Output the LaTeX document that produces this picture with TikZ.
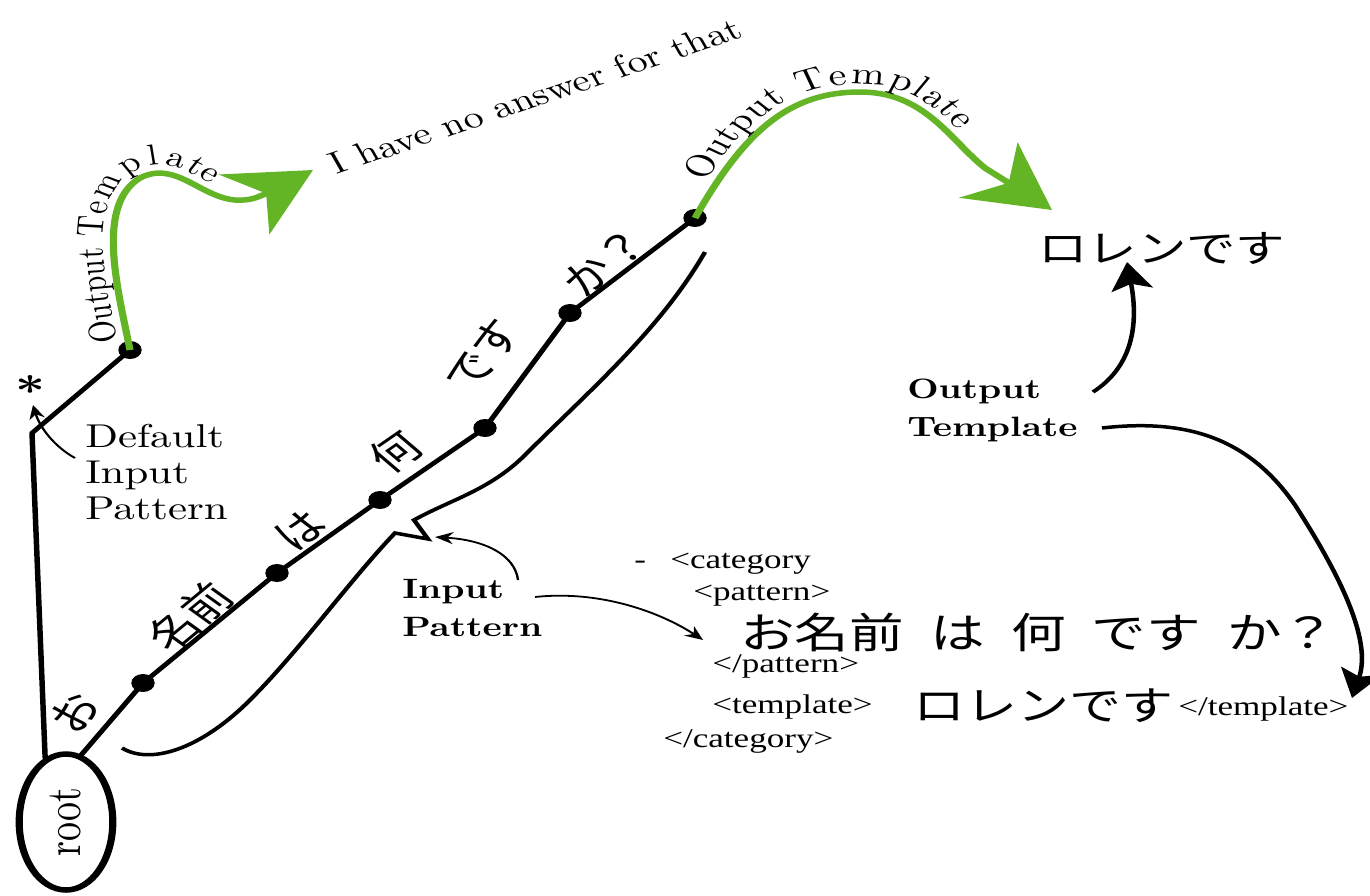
\documentclass[tikz,border=0pt]{standalone}
\usepackage{fontspec}
\usepackage{graphicx}
\setmainfont{lmroman10-regular}[Extension=.otf, BoldFont=lmroman10-bold, ItalicFont=lmroman10-italic]
\newfontfamily\jp{Noto Sans CJK JP}
\newfontfamily\tms{Liberation Serif}
\usetikzlibrary{shapes.geometric,arrows.meta,decorations.text}
\definecolor{lgreen}{RGB}{100,181,38}
\tikzset{
 dotn/.style={circle, fill=black, inner sep=0pt, minimum size=18pt},
 trunk/.style={line width=4.2pt, line cap=round, line join=round},
 bracket/.style={line width=3.5pt, line join=miter},
 gcurve/.style={lgreen, line width=5.5pt, -{Stealth[length=63pt,width=71pt,inset=20pt]}},
 thinarr/.style={line width=1.8pt, -{Stealth[length=14pt,width=12pt]}},
 blkarr/.style={line width=3.5pt, -{Stealth[length=28pt,width=32pt,inset=6pt]}},
 lab/.style={inner sep=0pt, font=\fontsize{33}{36}\selectfont, align=left},
 blab/.style={inner sep=0pt, font=\bfseries\fontsize{28}{38}\selectfont, align=left},
 tag/.style={inner sep=0pt, anchor=base west, font=\tms\fontsize{27}{30}\selectfont},
 jpl/.style={inner sep=0pt, font=\jp\fontsize{38}{40}\selectfont},
 gtext/.style 2 args={decorate, decoration={text along path, raise=8pt,
   text={|\fontsize{#2}{32}\selectfont|Output Template}, text align={left indent=#1}}},
}
\newcommand\jsp{\hspace{0.48em}}
\begin{document}
\begin{tikzpicture}
\fill[white] (0pt,0pt) rectangle (1370pt,-895pt);
\useasboundingbox (0pt,0pt) rectangle (1370pt,-895pt);
\begin{scope}[x=0.76923pt, y=-1pt, transform canvas={xscale=1.3}]
 % root
 \node[ellipse, draw, line width=5.5pt, minimum width=72pt, minimum height=136pt, inner sep=0pt,
   font=\fontsize{38}{40}\selectfont] (root) at (66,822) {\rotatebox{90}{root}};
 % bracket under the pattern
 \draw[bracket] (122,748) .. controls (150,765) and (200,750) .. (250,700)
   .. controls (300,650) and (350,580) .. (395,533) -- (428,539) -- (414,520)
   .. controls (450,500) and (490,490) .. (525,455)
   .. controls (590,390) and (660,330) .. (705,252);
 % dots
 \node[dotn] (d0) at (130,350) {};
 \node[dotn] (d1) at (143,683) {};
 \node[dotn] (d2) at (277,573) {};
 \node[dotn] (d3) at (380,500) {};
 \node[dotn] (d4) at (485,428) {};
 \node[dotn] (d5) at (570,313) {};
 \node[dotn] (d6) at (695,218) {};
 \coordinate (j) at (32,433);
 \draw[trunk] (root.104) -- (j) -- (d0.center);
 \draw[trunk] (root.80) -- (d1.center) -- (d2.center) -- (d3.center) -- (d4.center) -- (d5.center) -- (d6.center);
 % star and default label
 \node[font=\bfseries\fontsize{40}{40}\selectfont, inner sep=0pt] (star) at (30,390) {*};
 \node[lab, anchor=north west] (dip) at (85,424) {Default\\Input\\Pattern};
 \coordinate (dtail) at (75,458);
 \coordinate (dtip) at (33,405);
 \draw[thinarr] (dtail) .. controls (55,447) and (40,428) .. (dtip);
 % green curves
 \draw[gcurve] (d0.center) .. controls (118,290) and (95,205) .. (140,178)
   .. controls (175,160) and (200,197) .. (235,200) .. controls (250,201) and (258,197) .. (265,194) -- (313,170);
 \path[gtext={10pt}{29}] (d0.center) .. controls (118,290) and (95,205) .. (140,178)
   .. controls (175,160) and (200,197) .. (235,200);
 \draw[gcurve] (d6.center) .. controls (745,130) and (790,92) .. (860,92)
   .. controls (925,92) and (950,140) .. (985,168) -- (1052,210);
 \path[gtext={36pt}{31}] (d6.center) .. controls (745,130) and (790,92) .. (860,92)
   .. controls (925,92) and (950,140) .. (985,168);
 % no answer text
 \coordinate (na1) at (330,177);
 \coordinate (na2) at (752,34);
 \path (na1) -- node[sloped, anchor=base, inner sep=0pt, font=\fontsize{31}{33}\selectfont] (noans) {I have no answer for that} (na2);
 % japanese along the trunk
 \node[jpl, rotate=56] (c1) at (75,713) {お};
 \node[jpl, rotate=47] (c2) at (190,617) {名前};
 \node[jpl, rotate=43] (c3) at (300,530) {は};
 \node[jpl, rotate=42] (c4) at (395,452) {何};
 \node[jpl, rotate=58] (c5) at (483,355) {です};
 \node[jpl, rotate=45] (c6) at (605,262) {か？};
 % input pattern label
 \node[blab, anchor=north west] (ip) at (402,579) {Input\\Pattern};
 \coordinate (ipa) at (518,580);
 \coordinate (ipat) at (435,537);
 \draw[thinarr] (ipa) .. controls (515,555) and (485,540) .. (ipat);
 \coordinate (ipb) at (535,597);
 \coordinate (ipbt) at (703,640);
 \draw[thinarr] (ipb) .. controls (600,590) and (660,612) .. (ipbt);
 % xml block
 \node[tag] (dash) at (634,568) {-};
 \node[tag] (cat) at (670,568) {<category};
 \node[tag] (pat) at (693,600) {<pattern>};
 \node[inner sep=0pt, anchor=base west, font=\jp\fontsize{42}{44}\selectfont] (q) at (740,648) {お名前\jsp は\jsp 何\jsp です\jsp か？};
 \node[tag] (epat) at (712,672) {</pattern>};
 \node[tag] (tmpl) at (712,713) {<template>};
 \node[inner sep=0pt, anchor=base west, font=\jp\fontsize{40}{44}\selectfont] (lr2) at (913,720) {ロレンです};
 \node[tag] (etmpl) at (1178,715) {</template>};
 \node[tag] (ecat) at (663,747) {</category>};
 % right side
 \node[inner sep=0pt, anchor=base west, font=\jp\fontsize{38}{40}\selectfont] (lr1) at (1038,262) {ロレンです};
 \node[blab, anchor=north west] (ot) at (907,379) {Output\\Template};
 \coordinate (oa) at (1093,392);
 \coordinate (oat) at (1127,262);
 \draw[blkarr] (oa) .. controls (1135,365) and (1138,320) .. (oat);
 \coordinate (ob) at (1102,428);
 \coordinate (obt) at (1352,698);
 \draw[blkarr] (ob) .. controls (1190,418) and (1250,440) .. (1295,505)
   .. controls (1340,575) and (1372,640) .. (obt);
\end{scope}
\end{tikzpicture}
\end{document}
